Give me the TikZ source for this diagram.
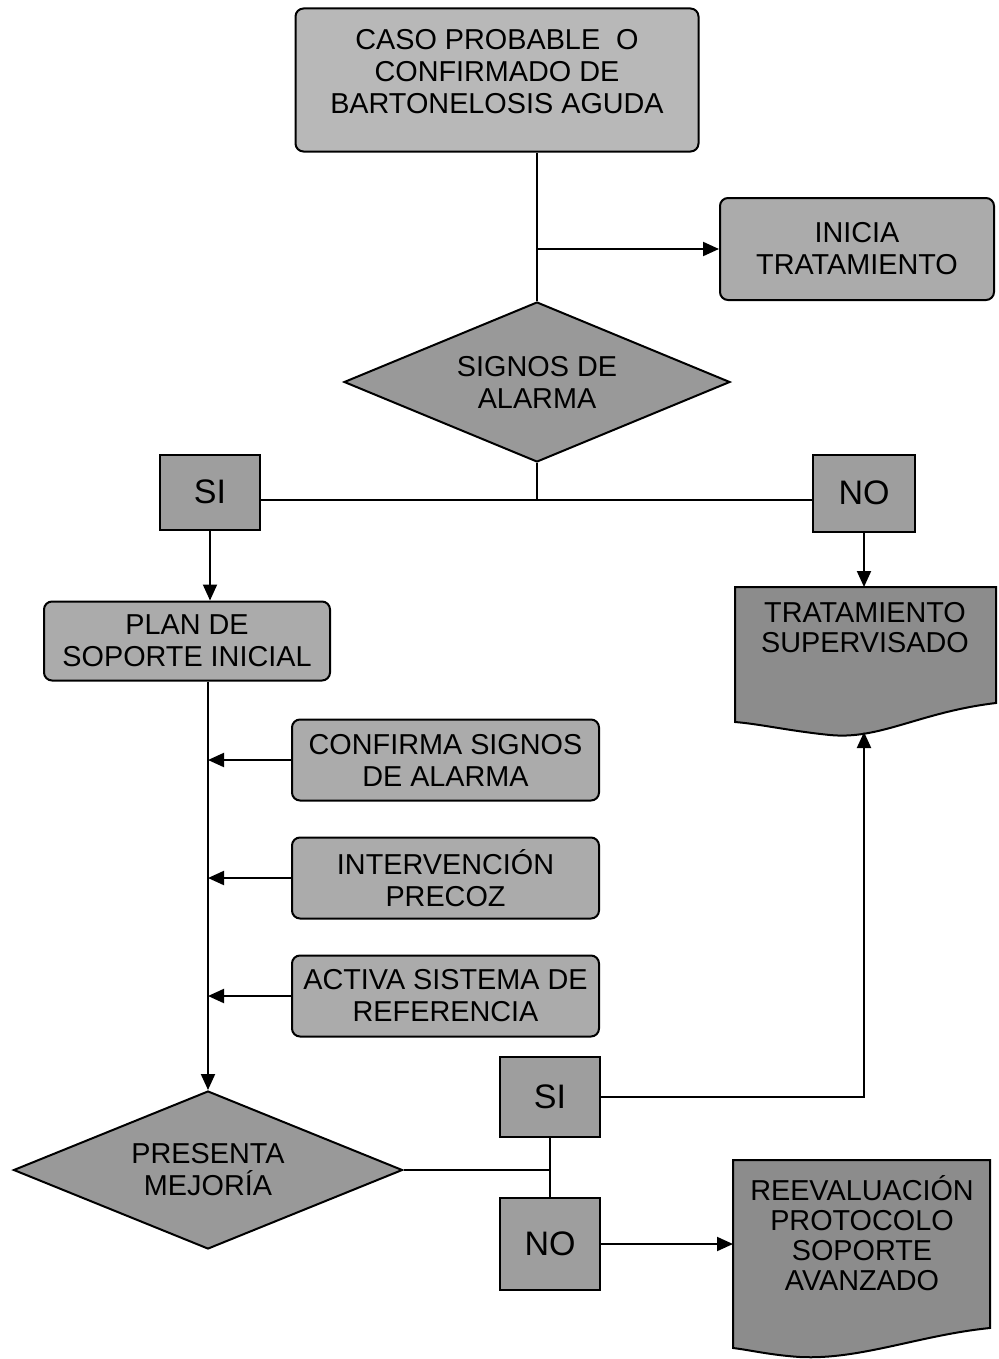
\documentclass[tikz,border=0pt]{standalone}
\usepackage{fontspec}
\setmainfont{Liberation Sans}
\usetikzlibrary{arrows.meta,shapes.geometric}
\tikzset{
  caja/.style={draw, line width=1pt, rounded corners=4pt, fill=black!33, align=center,
    inner sep=0pt, font=\fontsize{14.4}{16}\selectfont},
  rombo/.style={diamond, draw, line width=1pt, fill=black!40, align=center, inner sep=0pt,
    aspect=2.45, font=\fontsize{14.4}{16}\selectfont},
  resp/.style={draw, line width=1pt, fill=black!38, inner sep=0pt, minimum width=50pt,
    font=\fontsize{17}{18}\selectfont},
  hoja/.style={draw, line width=1pt, fill=black!45},
  hojatxt/.style={align=center, inner sep=0pt, font=\fontsize{14.4}{15}\selectfont},
  linea/.style={line width=1pt},
  flecha/.style={line width=1pt, -{Triangle[length=8pt,width=7pt]}}
}
\begin{document}
\begin{tikzpicture}[x=0.5pt,y=-0.5pt]
\useasboundingbox (0,0) rectangle (998,1359);
% inicio
\node[caja, fill=black!28, minimum width=201.5pt, minimum height=71.5pt] (caso) at (497,80)
  {CASO PROBABLE \ O\\CONFIRMADO DE\\BARTONELOSIS AGUDA\\[-7pt]\mbox{}};
\node[caja, minimum width=137pt, minimum height=51pt] (inicia) at (857,249) {INICIA\\TRATAMIENTO};
\node[rombo, minimum width=193pt, minimum height=80pt] (signos) at (537,382) {SIGNOS DE\\ALARMA};
\draw[linea] (caso.south -| signos.north) -- (signos.north);
\draw[flecha] (inicia.west -| signos.north) -- (inicia.west);
% si / no
\node[resp, minimum height=37.5pt] (si) at (210,492) {SI};
\node[resp, minimum width=51pt, minimum height=38.5pt] (no) at (864,493) {NO};
\coordinate (siE) at ([yshift=-4pt]si.east);
\draw[linea] (siE) -- (siE -| no.west);
\draw[linea] (signos.south) -- (signos.south |- siE);
% rama si
\node[caja, minimum width=143pt, minimum height=39.5pt] (plan) at (187,641) {PLAN DE\\SOPORTE INICIAL};
\draw[flecha] (si.south) -- (si.south |- plan.north);
\node[rombo, minimum width=194.5pt, minimum height=79pt] (presenta) at (208,1170) {PRESENTA\\MEJORÍA};
\draw[flecha] (plan.south -| presenta.north) -- (presenta.north);
\foreach \n/\y/\t in {conf/760/{CONFIRMA SIGNOS\\DE ALARMA},
                      interv/878/{INTERVENCIÓN\\PRECOZ},
                      activa/996/{ACTIVA SISTEMA DE\\REFERENCIA}}{
  \node[caja, minimum width=153.5pt, minimum height=40.5pt] (\n) at (445.5,\y) {\t};
  \draw[flecha] (\n.west) -- (\n.west -| presenta.north);
}
% rama no
\filldraw[hoja] (735,587) -- (996,587) -- (996,703) .. controls (920,712) and (880,740) .. (830,735)
  .. controls (790,731) and (760,724) .. (735,722) -- cycle;
\node[hojatxt] (trat) at (865,628) {TRATAMIENTO\\SUPERVISADO};
\coordinate (tratA) at (864,587);
\coordinate (tratB) at (864,732);
\draw[flecha] (no.south) -- (tratA);
% mejoria
\node[resp, minimum height=40pt] (si2) at (550,1097) {SI};
\node[resp, minimum height=46pt] (no2) at (550,1244) {NO};
\draw[linea] (presenta.east) -- (presenta.east -| si2.south);
\draw[linea] (si2.south) -- (no2.north);
\draw[flecha] (si2.east) -| (tratB);
\filldraw[hoja] (733,1160) -- (990,1160) -- (990,1328) .. controls (920,1335) and (860,1360) .. (800,1357)
  .. controls (770,1355) and (750,1350) .. (733,1348) -- cycle;
\node[hojatxt] (reev) at (862,1233) {REEVALUACIÓN\\PROTOCOLO\\SOPORTE\\AVANZADO};
\coordinate (reevW) at (733,1244);
\draw[flecha] (no2.east) -- (reevW);
\end{tikzpicture}
\end{document}
